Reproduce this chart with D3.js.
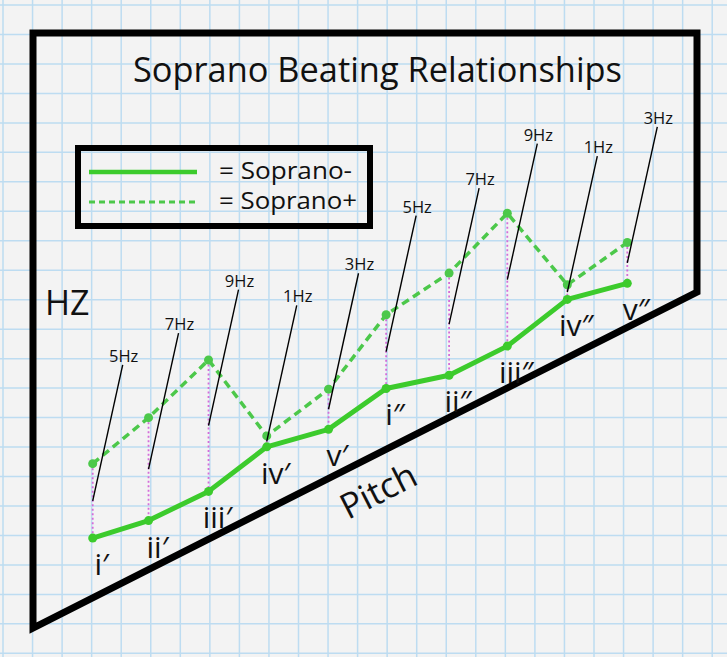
<!DOCTYPE html>
<html>
	<head>
		<meta charset="utf-8">
		<title>Soprano Beating Relationships</title>
		<script src="https://d3js.org/d3.v7.min.js"></script>
		<style>
			body { margin: 0; background: #f3f3f3; }
			#plot { width: 727px; height: 657px; }
			text { font-family: 'Open Sans', 'Noto Sans', sans-serif; fill: #111; }
		</style>
	</head>
	<body>
		<div id='plot'></div>
		<script>
			// pitch position of each note (arbitrary units along the pitch axis)
			var pitch = [0, 0.94, 1.95, 2.93, 3.97, 4.94, 6.0, 6.98, 7.99, 9.0]
			var notes = ['i′', 'ii′', 'iii′', 'iv′', 'v′', 'i″', 'ii″', 'iii″', 'iv″', 'v″']
			// Hz values
			var sopranoMinus = [1.5, 2.7, 4.7, 7.75, 8.95, 11.75, 12.65, 14.65, 17.85, 18.95]
			var sopranoPlus = [6.6, 9.75, 13.7, 8.5, 11.7, 16.8, 19.65, 23.75, 18.85, 21.75]
			var beats = ['5Hz', '7Hz', '9Hz', '1Hz', '3Hz', '5Hz', '7Hz', '9Hz', '1Hz', '3Hz']
			var legendNames = ['= Soprano-', '= Soprano+']

			var W = 727, H = 657
			var green = '#3ccb2c', green2 = '#4cc84a'

			var svg = d3.select('#plot').append('svg')
							.attr('width', W)
							.attr('height', H)

			// graph paper
			var grid = svg.append('g').attr('stroke', '#bddcf1').attr('stroke-width', 1.5)
			grid.selectAll('.vx').data(d3.range(3, W, 29.55)).enter()
				.append('line').attr('class', 'vx')
					.attr('x1', function(d){return d}).attr('x2', function(d){return d})
					.attr('y1', 0).attr('y2', H)
			grid.selectAll('.hy').data(d3.range(5, H, 29.47)).enter()
				.append('line').attr('class', 'hy')
					.attr('y1', function(d){return d}).attr('y2', function(d){return d})
					.attr('x1', 0).attr('x2', W)

			// frame with the slanted pitch axis
			svg.append('path')
				.attr('d', 'M33,33 L697,33 L697,292 L33,628 Z')
				.attr('fill', 'none')
				.attr('stroke', '#000')
				.attr('stroke-width', 7)

			svg.append('text')
				.attr('x', 133).attr('y', 82)
				.attr('textLength', 489).attr('lengthAdjust', 'spacingAndGlyphs')
				.style('font-size', '34px')
				.text('Soprano Beating Relationships')

			svg.append('text')
				.attr('x', 45).attr('y', 315)
				.style('font-size', '34px')
				.text('HZ')

			svg.append('text')
				.attr('transform', 'translate(348,520) rotate(-27)')
				.style('font-size', '35px')
				.text('Pitch')

			// legend
			svg.append('rect')
				.attr('x', 78).attr('y', 148).attr('width', 292).attr('height', 78)
				.attr('fill', 'none').attr('stroke', '#000').attr('stroke-width', 6)
			svg.append('line')
				.attr('x1', 89).attr('x2', 197).attr('y1', 172).attr('y2', 172)
				.attr('stroke', green).attr('stroke-width', 4.5)
			svg.append('line')
				.attr('x1', 89).attr('x2', 197).attr('y1', 202).attr('y2', 202)
				.attr('stroke', green2).attr('stroke-width', 3).attr('stroke-dasharray', '6,4')
			svg.selectAll('.leg').data(legendNames).enter()
				.append('text').attr('class', 'leg')
					.attr('x', 219)
					.attr('y', function(d, i){return 179 + i*30})
					.attr('textLength', function(d, i){return i ? 138 : 133})
					.attr('lengthAdjust', 'spacingAndGlyphs')
					.style('font-size', '24px')
					.text(function(d){return d})

			var xScale = d3.scaleLinear().domain([0, 9]).range([92.7, 627.3])
			var yScale = d3.scaleLinear().domain([0, 25]).range([560, 195])

			var dat = pitch.map(function(p, i){
				return {p: p, lo: sopranoMinus[i], hi: sopranoPlus[i], note: notes[i], beat: beats[i]}
			})

			// dotted pink beat spans
			svg.selectAll('.span').data(dat).enter()
				.append('line').attr('class', 'span')
					.attr('x1', function(d){return xScale(d.p)}).attr('x2', function(d){return xScale(d.p)})
					.attr('y1', function(d){return yScale(d.hi)}).attr('y2', function(d){return yScale(d.lo)})
					.attr('stroke', '#d56cd9').attr('stroke-width', 1.8).attr('stroke-dasharray', '2,2.5')

			var line = d3.line()
				.x(function(d){return xScale(d.p)})

			svg.append('path')
				.datum(dat)
				.attr('d', line.y(function(d){return yScale(d.hi)}))
				.attr('fill', 'none').attr('stroke', green2)
				.attr('stroke-width', 3.5).attr('stroke-dasharray', '8,5')

			svg.append('path')
				.datum(dat)
				.attr('d', line.y(function(d){return yScale(d.lo)}))
				.attr('fill', 'none').attr('stroke', green)
				.attr('stroke-width', 5).attr('stroke-linejoin', 'round')

			svg.selectAll('.dhi').data(dat).enter()
				.append('circle').attr('class', 'dhi')
					.attr('cx', function(d){return xScale(d.p)})
					.attr('cy', function(d){return yScale(d.hi)})
					.attr('r', 4.5).attr('fill', green2)
			svg.selectAll('.dlo').data(dat).enter()
				.append('circle').attr('class', 'dlo')
					.attr('cx', function(d){return xScale(d.p)})
					.attr('cy', function(d){return yScale(d.lo)})
					.attr('r', 4.5).attr('fill', green)

			// leader lines to the beat labels
			function mid(d){return (yScale(d.hi) + yScale(d.lo))/2}
			svg.selectAll('.lead').data(dat).enter()
				.append('line').attr('class', 'lead')
					.attr('x1', function(d){return xScale(d.p)})
					.attr('y1', function(d){return mid(d)})
					.attr('x2', function(d){return xScale(d.p) + 30})
					.attr('y2', function(d){return mid(d) - 136})
					.attr('stroke', '#000').attr('stroke-width', 1.4)
			svg.selectAll('.beat').data(dat).enter()
				.append('text').attr('class', 'beat')
					.attr('x', function(d){return xScale(d.p) + 31})
					.attr('y', function(d){return mid(d) - 139})
					.attr('text-anchor', 'middle')
					.style('font-size', '16.5px')
					.text(function(d){return d.beat})

			svg.selectAll('.note').data(dat).enter()
				.append('text').attr('class', 'note')
					.attr('x', function(d){return xScale(d.p) + 9})
					.attr('y', function(d){return yScale(d.lo) + 37})
					.attr('text-anchor', 'middle')
					.style('font-size', '30px')
					.text(function(d){return d.note})
		</script>
	</body>
</html>
